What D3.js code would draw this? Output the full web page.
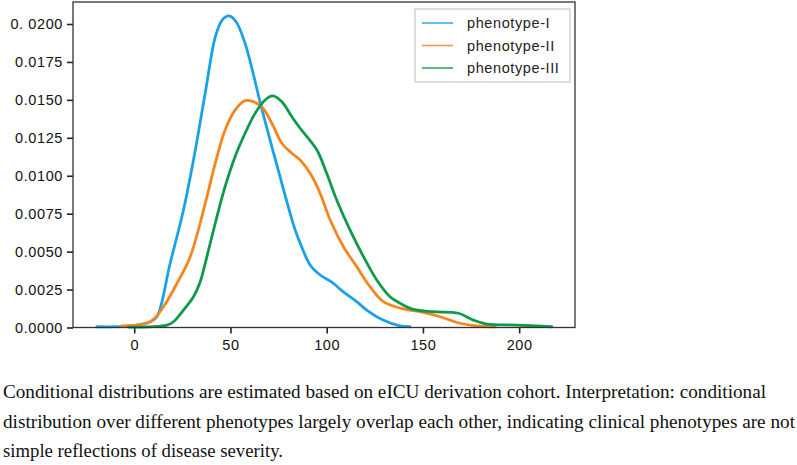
<!DOCTYPE html>
<html>
<head>
<meta charset="utf-8">
<script src="https://cdn.jsdelivr.net/npm/d3@7"></script>
<style>
  html, body { margin: 0; padding: 0; background: #fff; }
  svg { display: block; }
</style>
</head>
<body>
<svg id="chart" width="797" height="465"></svg>
<script>
// ---- data ----
const seriesNames = ["phenotype-I", "phenotype-II", "phenotype-III"];
const seriesColors = ["#1aa1e6", "#f5861f", "#0f9a4a"];

const phenotypeI = [
  [-19.4, 0.00005], [-2.1, 0.0001], [8.3, 0.00038], [11.8, 0.00071], [18.7, 0.00425],
  [25.6, 0.00774], [30.6, 0.0109], [36.9, 0.01545], [42.1, 0.01914], [45.7, 0.02026],
  [49.3, 0.02053], [53.0, 0.02013], [57.6, 0.01872], [66.5, 0.01430], [74.8, 0.01038],
  [83.6, 0.00643], [86.2, 0.00557], [91.4, 0.00412], [96.6, 0.00346], [103.3, 0.00293],
  [108.5, 0.00236], [115.6, 0.00170], [120.8, 0.00115], [129.3, 0.00049], [138.1, 0.0001],
  [143.3, 0.00005]
];
const phenotypeII = [
  [-6.4, 0.0001], [8.3, 0.00038], [15.2, 0.00137], [22.2, 0.00291], [29.1, 0.00467],
  [36.9, 0.00818], [42.1, 0.01082], [47.2, 0.01301], [52.4, 0.01433], [57.6, 0.01495],
  [61.9, 0.01488], [66.3, 0.01455], [71.5, 0.01346], [76.7, 0.01214], [81.9, 0.01148],
  [86.2, 0.01104], [91.4, 0.01016], [96.6, 0.00884], [101.8, 0.00708], [108.7, 0.00532],
  [115.6, 0.00401], [122.5, 0.00269], [129.4, 0.0017], [138.1, 0.00128], [148.5, 0.00104],
  [158.9, 0.00071], [169.3, 0.00028], [177.9, 0.0001], [187.4, 0.00005]
];
const phenotypeIII = [
  [-3.0, 0.00003], [17.0, 0.00016], [20.4, 0.00038], [25.6, 0.00115], [30.8, 0.00203],
  [34.3, 0.00302], [36.9, 0.00423], [42.1, 0.00687], [47.2, 0.00928], [52.4, 0.01126],
  [57.6, 0.0128], [62.8, 0.01411], [68.0, 0.01499], [71.8, 0.01526], [76.7, 0.01488],
  [81.9, 0.01389], [86.2, 0.01313], [94.9, 0.0117], [100.0, 0.01016], [105.2, 0.0084],
  [112.1, 0.00643], [119.1, 0.00467], [126.0, 0.00313], [132.9, 0.00203], [138.1, 0.0016],
  [145.0, 0.0012], [155.4, 0.00104], [168.4, 0.00094], [176.2, 0.00049], [183.1, 0.00023],
  [198.7, 0.00016], [216.9, 0.00005]
];
const allSeries = [phenotypeI, phenotypeII, phenotypeIII];

const xTickValues = [0, 50, 100, 150, 200];
const xTickLabels = ["0", "50", "100", "150", "200"];
const yTickValues = [0, 0.0025, 0.005, 0.0075, 0.01, 0.0125, 0.015, 0.0175, 0.02];
const yTickLabels = ["0.0000", "0.0025", "0.0050", "0.0075", "0.0100", "0.0125", "0.0150", "0.0175", "0. 0200"];

const captionLines = [
  "Conditional distributions are estimated based on eICU derivation cohort. Interpretation: conditional",
  "distribution over different phenotypes largely overlap each other, indicating clinical phenotypes are not",
  "simple reflections of disease severity."
];

// ---- layout ----
const svg = d3.select("#chart");
const plot = { left: 73, right: 575, top: 2, bottom: 327.5 };

const x = d3.scaleLinear().domain([-31.8, 229]).range([plot.left, plot.right]);
const y = d3.scaleLinear().domain([0, 0.02145]).range([plot.bottom, plot.top]);

const axisFont = "'Liberation Sans', Arial, Helvetica, sans-serif";

// axes
const xAxis = d3.axisBottom(x).tickValues(xTickValues)
  .tickFormat((d, i) => xTickLabels[i]).tickSize(6).tickPadding(6);
const yAxis = d3.axisLeft(y).tickValues(yTickValues)
  .tickFormat((d, i) => yTickLabels[i]).tickSize(6).tickPadding(4);

const gx = svg.append("g").attr("transform", `translate(0,${plot.bottom})`).call(xAxis);
const gy = svg.append("g").attr("transform", `translate(${plot.left},0)`).call(yAxis);
[gx, gy].forEach(g => {
  g.select(".domain").remove();
  g.selectAll(".tick line").attr("stroke", "#222").attr("stroke-width", 1.6);
  g.selectAll(".tick text")
    .attr("fill", "#111")
    .style("font-family", axisFont)
    .style("font-size", "14.5px")
    .style("letter-spacing", "0.6px");
});

// curves
const line = d3.line()
  .x(d => x(d[0]))
  .y(d => y(d[1]))
  .curve(d3.curveCatmullRom.alpha(0.5));

svg.append("g").selectAll("path")
  .data(allSeries)
  .join("path")
  .attr("d", line)
  .attr("fill", "none")
  .attr("stroke", (d, i) => seriesColors[i])
  .attr("stroke-width", 2.8)
  .attr("stroke-linejoin", "round")
  .attr("stroke-linecap", "round");

// frame
svg.append("rect")
  .attr("x", plot.left).attr("y", plot.top)
  .attr("width", plot.right - plot.left).attr("height", plot.bottom - plot.top)
  .attr("fill", "none").attr("stroke", "#333").attr("stroke-width", 1.3);

// legend
const legend = svg.append("g");
legend.append("rect")
  .attr("x", 415).attr("y", 9).attr("width", 155).attr("height", 73)
  .attr("fill", "#fff").attr("stroke", "#c8c8c8").attr("stroke-width", 1.2);
const rows = legend.selectAll("g.row").data(seriesNames).join("g")
  .attr("class", "row")
  .attr("transform", (d, i) => `translate(0,${23 + i * 22.5})`);
rows.append("line")
  .attr("x1", 422).attr("x2", 453).attr("y1", 0).attr("y2", 0)
  .attr("stroke", (d, i) => seriesColors[i]).attr("stroke-width", 1.6).attr("opacity", 0.85);
rows.append("text")
  .attr("x", 467).attr("y", 5)
  .attr("fill", "#222")
  .style("font-family", axisFont)
  .style("font-size", "14.5px")
  .style("letter-spacing", "0.6px")
  .text(d => d);

// caption
const captionEnds = [766, 795, 283];
svg.append("g").selectAll("text")
  .data(captionLines)
  .join("text")
  .attr("x", 3)
  .attr("y", (d, i) => 398 + i * 29.5)
  .attr("textLength", (d, i) => captionEnds[i] - 3)
  .attr("lengthAdjust", "spacingAndGlyphs")
  .attr("fill", "#111")
  .style("font-family", "'Liberation Serif', 'Times New Roman', serif")
  .style("font-size", "19px")
  .text(d => d);
</script>
</body>
</html>
